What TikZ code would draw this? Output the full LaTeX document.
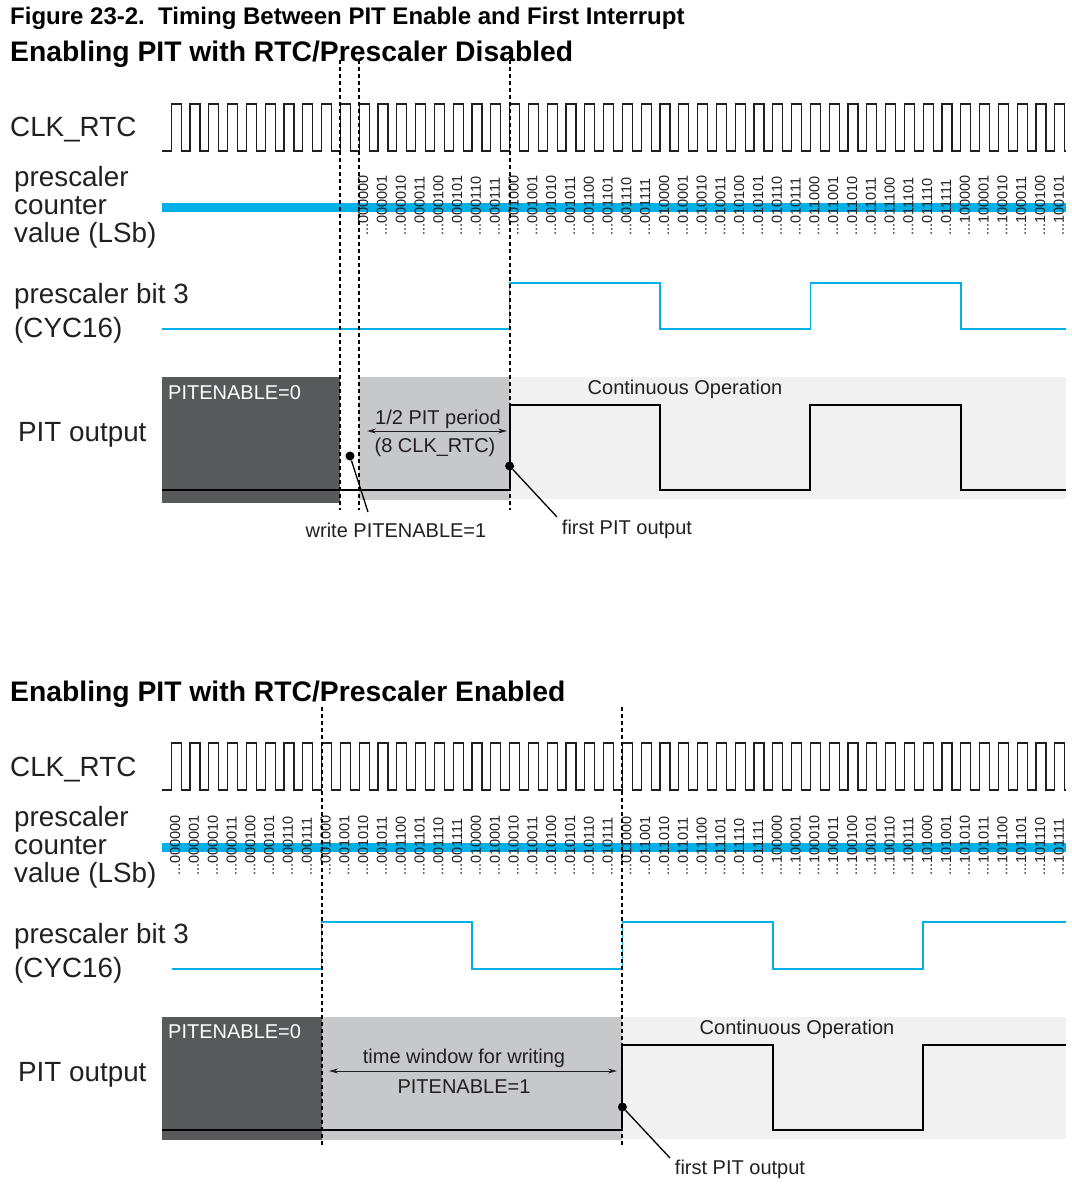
\documentclass[tikz,border=0pt]{standalone}
\usepackage{fontspec}
\setmainfont{Liberation Sans}
\usetikzlibrary{arrows.meta}
\definecolor{tcyan}{HTML}{00B0E6}
\definecolor{tdark}{HTML}{58595B}
\definecolor{tmid}{HTML}{C7C8CA}
\definecolor{tlight}{HTML}{F1F1F2}
\definecolor{tink}{HTML}{231F20}
\tikzset{
  clk/.style={draw=tink,line width=1.3pt},
  sig/.style={draw=tcyan,line width=1.5pt},
  outw/.style={draw=black,line width=2pt},
  bar/.style={draw=tcyan,line width=9pt},
  vline/.style={draw=black,line width=2pt,dash pattern=on 4pt off 3pt},
  lbl/.style={font=\fontsize{27.8}{28}\selectfont,anchor=west,align=left,inner sep=0pt,text=tink},
  ttl/.style={font=\bfseries\fontsize{28.3}{30}\selectfont,anchor=west,inner sep=0pt},
  cnt/.style={font=\fontsize{14.5}{14.5}\selectfont,rotate=90,anchor=west,inner sep=0pt,text=tink},
  note/.style={font=\fontsize{20}{23}\selectfont,inner sep=0pt,text=tink},
  pdot/.style={circle,fill=black,inner sep=0pt,minimum size=9pt},
  ldr/.style={draw=black,line width=1.3pt},
  darr/.style={{Stealth[length=9pt,width=5pt]}-{Stealth[length=9pt,width=5pt]},line width=1pt,draw=tink},
}
% counter values, LSbs only
\def\cntvals{000000,000001,000010,000011,000100,000101,000110,000111,%
001000,001001,001010,001011,001100,001101,001110,001111,%
010000,010001,010010,010011,010100,010101,010110,010111,%
011000,011001,011010,011011,011100,011101,011110,011111,%
100000,100001,100010,100011,100100,100101,100110,100111,%
101000,101001,101010,101011,101100,101101,101110,101111}
\def\px{18.8}
\def\xo{171.2}
\begin{document}
\begin{tikzpicture}[x=1pt,y=-1pt]
\useasboundingbox (0,0) rectangle (1071,1193);

\node[ttl,font=\bfseries\fontsize{24}{26}\selectfont] (fig) at (10,18) {Figure 23-2.\ \ Timing Between PIT Enable and First Interrupt};

% ---- prescaler disabled
\node[ttl] (t1) at (10,54) {Enabling PIT with RTC/Prescaler Disabled};
\node[lbl] (clk1) at (10,130) {CLK\_RTC};
\node[lbl] (cnt1) at (14,207) {prescaler\\counter\\value (LSb)};
\node[lbl,font=\fontsize{27.8}{34}\selectfont] (bit1) at (14,313) {prescaler bit 3\\(CYC16)};
\node[lbl] (pit1) at (18,435) {PIT output};

\draw[clk] (162,151) foreach \k in {0,...,47} {
  -- ({\xo+\k*\px},151) -- ++(0,-47) -- ++(10,0) -- ++(0,47)} -- (1066,151);
\draw[bar] (162,207) -- (1066,207);
\foreach \b [count=\i from 0] in \cntvals {
  \ifnum\i<38
    \node[cnt] at ({\xo+(\i+10)*\px+4},236) {...\b};
  \fi
}
\draw[sig] (162,329) -- (509.6,329) |- (660,283) |- (810.4,329) |- (960.8,283) |- (1066,329);

\fill[tdark] (162,377) rectangle (340.4,503);
\fill[tmid] (359.2,377) rectangle (509.6,500);
\fill[tlight] (509.6,377) rectangle (1066,499);
\draw[outw] (162,490) -- (509.6,490) |- (660,405) |- (810.4,490) |- (960.8,405) |- (1066,490);
\node[note,text=white,anchor=west] (en0a) at (168,393) {PITENABLE=0};
\node[note] (cont1) at (685,389) {Continuous Operation};

\foreach \x in {340.4,359.2,509.6}
  \draw[vline] (\x,60) -- (\x,510);

\coordinate (ha) at (367,431);
\coordinate (hb) at (507,431);
\draw[darr] (ha) -- (hb);
\node[note] (half) at (438,419) {1/2 PIT period};
\node[note] (eight) at (435,447) {(8 CLK\_RTC)};

\node[pdot] (wdot) at (350,456) {};
\coordinate (wend) at (368,512);
\draw[ldr] (wdot) -- (wend);
\node[note] (wtxt) at (396,530) {write PITENABLE=1};
\node[pdot] (fdot1) at (509.6,466) {};
\coordinate (fend1) at (557,517);
\draw[ldr] (fdot1) -- (fend1);
\node[note] (ftxt1) at (627,529) {first PIT output};

% ---- prescaler enabled
\node[ttl] (t2) at (10,694) {Enabling PIT with RTC/Prescaler Enabled};
\node[lbl] (clk2) at (10,770) {CLK\_RTC};
\node[lbl] (cnt2) at (14,847) {prescaler\\counter\\value (LSb)};
\node[lbl,font=\fontsize{27.8}{34}\selectfont] (bit2) at (14,953) {prescaler bit 3\\(CYC16)};
\node[lbl] (pit2) at (18,1075) {PIT output};

\draw[clk] (162,790) foreach \k in {0,...,47} {
  -- ({\xo+\k*\px},790) -- ++(0,-47) -- ++(10,0) -- ++(0,47)} -- (1066,790);
\draw[bar] (162,847) -- (1066,847);
\foreach \b [count=\i from 0] in \cntvals
  \node[cnt] at ({\xo+\i*\px+4},876) {...\b};
\draw[sig] (172,969) -- (321.6,969) |- (472,922) |- (622.4,969) |- (772.8,922) |- (923.2,969) |- (1066,922);

\fill[tdark] (162,1017) rectangle (321.6,1140);
\fill[tmid] (321.6,1017) rectangle (622.4,1140);
\fill[tlight] (622.4,1017) rectangle (1066,1139);
\draw[outw] (162,1130) -- (622.4,1130) |- (772.8,1045) |- (923.2,1130) |- (1066,1045);
\node[note,text=white,anchor=west] (en0b) at (168,1032) {PITENABLE=0};
\node[note] (cont2) at (797,1029) {Continuous Operation};

\foreach \x in {321.6,622.4}
  \draw[vline] (\x,707) -- (\x,1147);

\coordinate (wa) at (329,1071);
\coordinate (wb) at (617,1071);
\draw[darr] (wa) -- (wb);
\node[note] (win) at (464,1058) {time window for writing};
\node[note] (en1) at (464,1087) {PITENABLE=1};

\node[pdot] (fdot2) at (622.4,1107) {};
\coordinate (fend2) at (670,1158);
\draw[ldr] (fdot2) -- (fend2);
\node[note] (ftxt2) at (740,1169) {first PIT output};
\end{tikzpicture}
\end{document}
